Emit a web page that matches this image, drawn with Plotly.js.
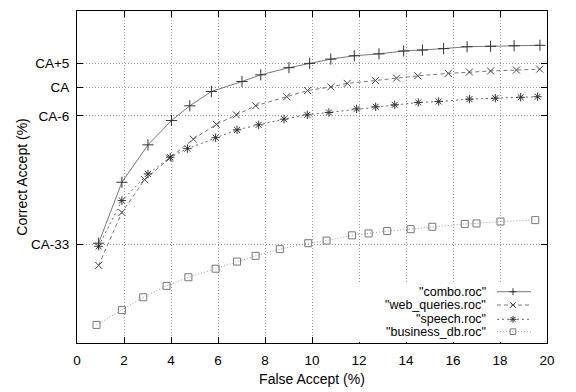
<!DOCTYPE html>
<html><head><meta charset="utf-8">
<script src="https://cdn.plot.ly/plotly-3.0.1.min.js"></script>
<style>html,body{margin:0;padding:0;background:#fff}#chart{width:576px;height:392px}</style>
</head><body><div id="chart"></div>
<script>
// Values relative to CA (Correct Accept baseline), in percent
const comboX = [0.92,1.91,3.02,4.02,4.8,5.72,7.02,7.82,9.02,9.9,10.8,11.8,12.85,13.9,14.7,15.6,16.6,17.6,18.6,19.7];
const comboY = [-32.75,-19.95,-12.1,-7.0,-3.9,-0.9,1.2,2.6,4.1,5.0,5.9,6.6,7.0,7.6,7.8,8.1,8.5,8.6,8.7,8.8];
const webX = [0.92,1.91,2.88,3.94,4.95,5.93,6.78,7.6,8.92,9.81,10.8,11.5,12.7,13.6,14.5,15.8,16.7,17.6,18.7,19.69];
const webY = [-37.4,-26.3,-19.4,-14.9,-10.9,-7.8,-5.8,-3.9,-2.0,-0.7,0.06,0.8,1.4,1.9,2.4,2.9,3.2,3.4,3.6,3.8];
const speechX = [0.92,1.91,3.02,3.97,4.7,5.9,6.81,7.73,8.81,9.8,10.72,11.9,12.71,13.52,14.52,15.39,16.7,17.8,18.88,19.6];
const speechY = [-33.4,-23.8,-18.2,-14.7,-12.9,-10.6,-8.95,-7.9,-6.7,-5.8,-5.3,-4.55,-4.1,-3.7,-3.2,-3.0,-2.5,-2.3,-2.1,-2.0];
const bizX = [0.83,1.91,2.82,3.81,4.74,5.9,6.81,7.6,8.63,9.84,10.62,11.7,12.41,13.2,14.2,15.12,16.5,17.0,18.02,19.5];
const bizY = [-49.9,-46.8,-44.1,-41.7,-39.9,-38.1,-36.6,-35.4,-34.0,-32.75,-32.2,-31.1,-30.7,-30.2,-29.8,-29.3,-28.7,-28.6,-28.2,-27.9];

const seriesNames = ['"combo.roc"','"web_queries.roc"','"speech.roc"','"business_db.roc"'];
const yTickVals = [-33,-6,0,5];
const yTickText = ['CA-33','CA-6','CA','CA+5'];
const xTickVals = [0,2,4,6,8,10,12,14,16,18,20];
const xTitle = 'False Accept (%)';
const yTitle = 'Correct Accept (%)';

const styles = [
  {dash:'solid', sym:'cross-thin-open', size:8, lc:'#777', mc:'#333'},
  {dash:'4px,3px', sym:'x-thin-open', size:7, lc:'#777', mc:'#444'},
  {dash:'2px,3px', sym:'asterisk-open', size:7, lc:'#666', mc:'#333'},
  {dash:'1px,2px', sym:'square-open', size:7, lc:'#999', mc:'#777'}
];
const xs=[comboX,webX,speechX,bizX], ys=[comboY,webY,speechY,bizY];
const traces = xs.map((x,i)=>({
  x:x, y:ys[i], type:'scatter', mode:'lines+markers', name:seriesNames[i],
  line:{color:styles[i].lc, width:1, dash:styles[i].dash},
  marker:{symbol:styles[i].sym, size:styles[i].size, color:styles[i].mc, line:{width:1, color:styles[i].mc}},
  showlegend:false
}));

const W=470, H=332;
const px=(p)=>(p-77)/W, py=(p)=>(343-p)/H;
const fam='Liberation Sans, Arial, sans-serif';
const keyY=[291.7,305,319.3,331.7];
const shapes=[{type:'rect',xref:'paper',yref:'paper',x0:px(322),x1:px(546),y0:py(342),y1:py(283),fillcolor:'#fff',line:{width:0},layer:'above'}];
const annotations=[];
keyY.forEach((yy,i)=>{
  annotations.push({xref:'paper',yref:'paper',x:px(488),y:py(yy),xanchor:'right',yanchor:'middle',showarrow:false,text:seriesNames[i],font:{family:fam,size:12.5,color:'#000'}});
  shapes.push({type:'line',xref:'paper',yref:'paper',x0:px(497),x1:px(531),y0:py(yy),y1:py(yy),line:{color:styles[i].lc,width:1,dash:styles[i].dash},layer:'above'});
  const cx=513, cy=yy, d=3.5, dx=d/W, dy=d/H, X=px(cx), Y=py(cy);
  let path='';
  if(i===0) path=`M${X-dx},${Y} L${X+dx},${Y} M${X},${Y-dy} L${X},${Y+dy}`;
  else if(i===1) path=`M${X-dx*0.8},${Y-dy*0.8} L${X+dx*0.8},${Y+dy*0.8} M${X-dx*0.8},${Y+dy*0.8} L${X+dx*0.8},${Y-dy*0.8}`;
  else if(i===2) path=`M${X-dx},${Y} L${X+dx},${Y} M${X},${Y-dy} L${X},${Y+dy} M${X-dx*0.7},${Y-dy*0.7} L${X+dx*0.7},${Y+dy*0.7} M${X-dx*0.7},${Y+dy*0.7} L${X+dx*0.7},${Y-dy*0.7}`;
  else path=`M${X-dx*0.8},${Y-dy*0.8} L${X+dx*0.8},${Y-dy*0.8} L${X+dx*0.8},${Y+dy*0.8} L${X-dx*0.8},${Y+dy*0.8} Z`;
  shapes.push({type:'path',xref:'paper',yref:'paper',path:path,line:{color:styles[i].mc,width:1},layer:'above'});
});

const tfont={family:fam,size:13.5,color:'#000'};
const layout={
  width:576,height:392,
  margin:{l:77,r:29,t:11,b:49,pad:0},
  paper_bgcolor:'#fff',plot_bgcolor:'#fff',
  font:tfont,
  showlegend:false,
  xaxis:{range:[0,20],tickvals:xTickVals,ticktext:xTickVals.map(String),
    ticks:'inside',ticklen:6,tickcolor:'#000',tickwidth:1,mirror:'ticks',
    showline:true,linecolor:'#000',linewidth:1,
    showgrid:true,gridcolor:'#999',griddash:'1px,2px',gridwidth:1,zeroline:false,
    ticklabelstandoff:5, tickfont:tfont,
    title:{text:xTitle,font:{family:fam,size:14,color:'#000'},standoff:6}},
  yaxis:{range:[-53.7,16],tickvals:yTickVals,ticktext:yTickText,
    ticks:'inside',ticklen:6,tickcolor:'#000',tickwidth:1,mirror:'ticks',
    showline:true,linecolor:'#000',linewidth:1,
    showgrid:true,gridcolor:'#999',griddash:'1px,2px',gridwidth:1,zeroline:false,
    ticklabelstandoff:4, tickfont:tfont,
    title:{text:yTitle,font:{family:fam,size:14,color:'#000'},standoff:0}},
  shapes:shapes, annotations:annotations
};
Plotly.newPlot('chart',traces,layout,{displayModeBar:false,staticPlot:true});
</script></body></html>
